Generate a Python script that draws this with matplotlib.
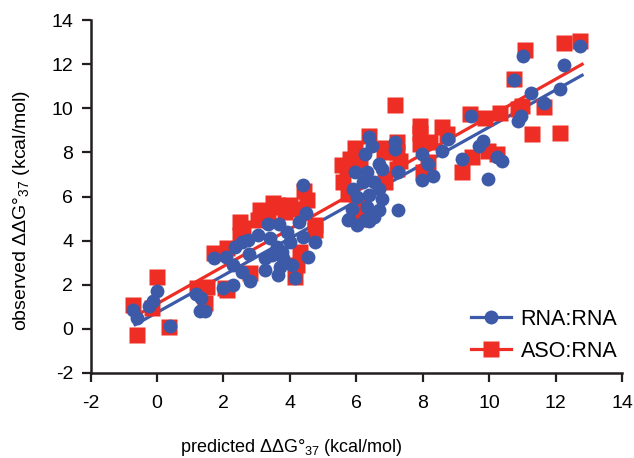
import numpy as np
import matplotlib.pyplot as plt
from matplotlib.lines import Line2D

plt.rcParams.update({
    'font.family': ['Liberation Sans', 'DejaVu Sans'],
    'font.size': 14,
    'axes.unicode_minus': False,
    'mathtext.fontset': 'custom',
    'mathtext.rm': 'Liberation Sans',
    'mathtext.it': 'Liberation Sans:italic',
})

# predicted vs observed ddG37 (kcal/mol)
rna_x = [-0.71, -0.61, -0.01, -0.13, -0.23, 0.39, 1.17, 1.32, 1.43, 1.30, 1.70, 2.00, 2.28,
         4.38, 4.49, 4.26, 4.76, 4.56, 4.16, 3.65, 3.25, 2.80, 2.08, 2.30, 2.55, 2.35, 2.55,
         2.75, 2.78, 3.05, 3.35, 3.68, 3.40, 3.60, 3.25, 3.45, 3.80, 4.00, 4.40, 3.90, 3.75,
         4.05, 3.70,
         6.37, 6.47, 7.17, 7.17, 6.26, 6.67, 6.77, 7.27, 7.97, 7.97, 5.96, 6.32, 5.91, 6.21,
         6.52, 6.67, 6.02, 6.37, 6.77, 5.86, 6.32, 6.67, 7.27, 5.76, 6.26, 6.52, 6.02, 6.37,
         5.77,
         9.45, 8.77, 8.58, 8.17, 8.32, 9.18, 9.68, 9.83, 10.23, 10.38, 9.98,
         12.74, 11.03, 12.26, 10.75, 11.26, 12.14, 11.66, 10.95, 10.88]
rna_y = [0.87, 0.50, 1.73, 1.27, 1.02, 0.12, 1.58, 1.40, 0.82, 0.80, 3.20, 1.85, 2.00,
         6.50, 5.23, 4.85, 3.95, 3.27, 2.30, 2.45, 2.67, 2.15, 3.27, 2.90, 2.60, 3.73, 3.95,
         4.02, 3.38, 4.25, 4.77, 4.77, 4.10, 3.73, 3.20, 3.35, 3.20, 3.95, 4.18, 4.40, 3.50,
         2.90, 2.82,
         8.68, 8.30, 8.45, 8.15, 7.93, 7.48, 7.25, 7.10, 7.93, 6.73, 7.10, 7.10, 6.35, 6.65,
         6.65, 6.35, 5.98, 6.05, 5.90, 5.45, 5.53, 5.37, 5.37, 4.92, 4.92, 5.07, 4.70, 4.87,
         5.00,
         9.65, 8.60, 8.08, 7.48, 6.92, 7.70, 8.30, 8.53, 7.78, 7.63, 6.80,
         12.80, 12.37, 11.94, 11.26, 10.70, 10.86, 10.23, 9.65, 9.43]

aso_x = [-0.72, -0.61, -0.01, -0.16, 0.37, 1.20, 1.45, 1.70, 2.05, 1.50,
         4.41, 2.10, 2.60, 2.50, 3.15, 3.55, 3.86, 4.30, 4.76, 4.20, 2.80, 2.10, 4.30,
         3.05, 3.35, 3.65, 4.76, 2.50, 3.10, 3.50, 4.00, 4.51, 4.16,
         7.92, 6.37, 7.22, 7.22, 5.81, 5.71, 6.11, 6.82, 5.61, 5.76, 6.87, 6.02, 6.17,
         8.02, 7.22, 5.56, 5.96, 6.87,
         7.17, 7.92, 8.58, 8.73, 7.92, 8.22, 8.17, 9.43, 9.88, 10.33, 10.88, 9.48, 9.98,
         10.23, 9.18, 7.32,
         12.24, 12.74, 11.08, 10.75, 10.98, 11.66, 11.28, 12.14]
aso_y = [1.09, -0.26, 2.33, 0.95, 0.08, 1.85, 1.17, 3.42, 1.85, 1.92,
         6.27, 3.65, 4.55, 4.25, 5.15, 5.53, 5.30, 5.45, 4.47, 2.90, 2.52, 1.77, 3.50,
         4.93, 5.23, 5.60, 4.70, 4.85, 5.40, 5.70, 5.60, 5.83, 2.37,
         9.20, 8.75, 8.45, 8.00, 7.70, 7.25, 7.55, 8.00, 6.65, 6.13, 6.65, 5.60, 5.00,
         7.10, 7.25, 7.43, 8.20, 8.20,
         10.13, 8.90, 9.13, 8.83, 8.38, 8.45, 7.55, 9.73, 9.58, 9.77, 9.95, 7.78, 8.08,
         7.93, 7.10, 7.63,
         12.96, 13.03, 12.62, 11.34, 10.10, 10.07, 8.83, 8.90]

# linear fits: slope, intercept, x range
rna_fit = (0.840, 0.745, -0.66, 12.8)
aso_fit = (0.848, 1.14, -0.55, 12.8)

blue = '#3d5aa9'
red = '#ee2e24'

fig = plt.figure(figsize=(6.34, 4.58), dpi=100)
ax = fig.add_axes([0.143, 0.1856, 0.838, 0.7707])

for fit, col in [(aso_fit, red), (rna_fit, blue)]:
    xs = np.array([fit[2], fit[3]])
    ax.plot(xs, fit[0] * xs + fit[1], color=col, lw=2.3, zorder=1)

ax.plot(aso_x, aso_y, 's', color=red, ms=11, mec='none', zorder=2)
ax.plot(rna_x, rna_y, 'o', color=blue, ms=10, mec='none', zorder=3)

ax.set_xlim(-2, 14)
ax.set_ylim(-2, 14)
ax.set_xticks(range(-2, 15, 2))
ax.set_yticks(range(-2, 15, 2))
for s in ['top', 'right']:
    ax.spines[s].set_visible(False)
for s in ['left', 'bottom']:
    ax.spines[s].set_linewidth(1.8)
    ax.spines[s].set_color('#231f20')
ax.tick_params(direction='out', length=6.5, width=1.6, color='#231f20', labelsize=14)
ax.tick_params(axis='x', pad=9)
ax.tick_params(axis='y', pad=6)

ax.set_xlabel('predicted ΔΔG°$_{37}$ (kcal/mol)', fontsize=13)
ax.xaxis.set_label_coords(0.378, -0.21)
ax.xaxis.label.set_va('center')
ax.set_ylabel('observed ΔΔG°$_{37}$ (kcal/mol)', fontsize=14)
ax.yaxis.set_label_coords(-0.13, 0.462)
ax.yaxis.label.set_va('center')

handles = [Line2D([], [], color=blue, lw=2.3, marker='o', ms=10, mec='none'),
           Line2D([], [], color=red, lw=2.3, marker='s', ms=11, mec='none')]
ax.legend(handles, ['RNA:RNA', 'ASO:RNA'], loc='lower right', frameon=False,
          bbox_to_anchor=(1.028, -0.023), handlelength=1.86, handletextpad=0.45,
          labelspacing=0.5, fontsize=15.5)

fig.savefig('out.png', dpi=100)
